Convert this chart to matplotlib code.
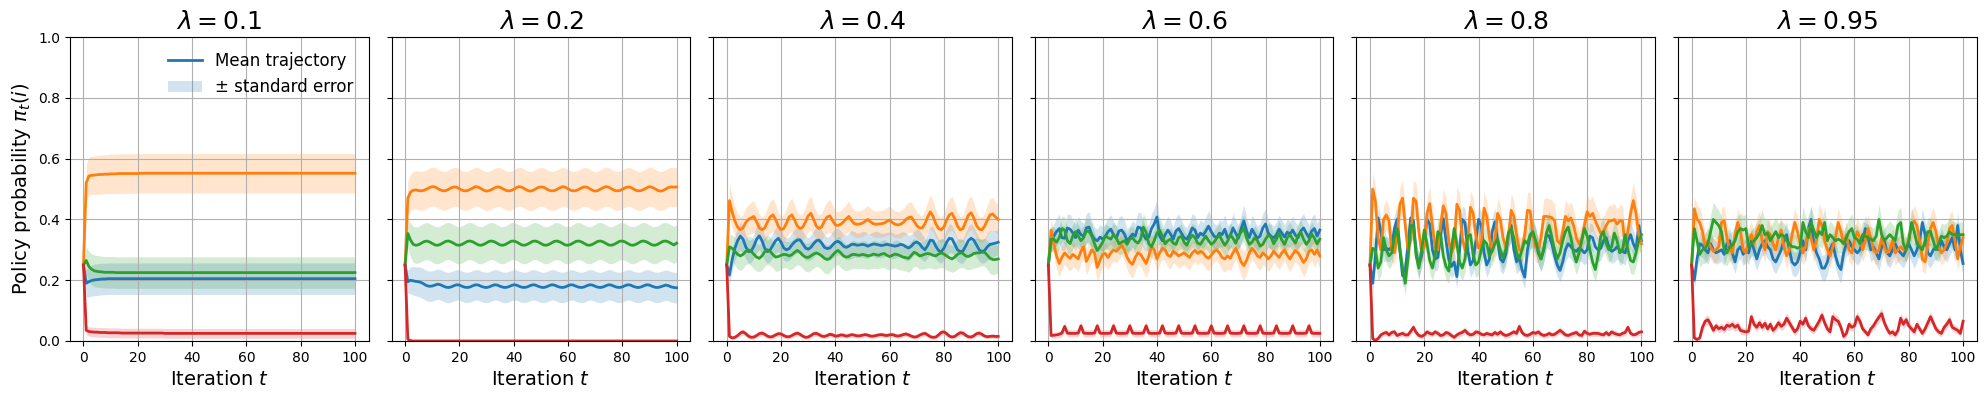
import numpy as np
import matplotlib.pyplot as plt

# values, in thousandths, t = 0..100 (10 per row)
lambdas = [0.1, 0.2, 0.4, 0.6, 0.8, 0.95]
iterations = np.arange(101)

# ---- lambda = 0.1 ----
blue_01 = """250 190 195 199 201 202 203 204 204 205
205 205 205 205 205 205 205 205 205 205
205 205 205 205 205 205 205 205 205 205
205 205 205 205 205 205 205 205 205 205
205 205 205 205 205 205 205 205 205 205
205 205 205 205 205 205 205 205 205 205
205 205 205 205 205 205 205 205 205 205
205 205 205 205 205 205 205 205 205 205
205 205 205 205 205 205 205 205 205 205
205 205 205 205 205 205 205 205 205 205
205"""
orange_01 = """250 520 543 545 546 547 548 548 549 549
550 550 550 551 551 551 551 551 551 551
551 552 552 552 552 552 552 552 552 552
552 552 552 552 552 552 552 552 552 552
552 552 552 552 552 552 552 552 552 552
552 552 552 552 552 552 552 552 552 552
552 552 552 552 552 552 552 552 552 552
552 552 552 552 552 552 552 552 552 552
552 552 552 552 552 552 552 552 552 552
552 552 552 552 552 552 552 552 552 552
552"""
green_01 = """250 265 245 236 231 229 228 227 226 226
226 226 225 225 225 225 225 225 225 225
225 225 225 225 225 225 225 225 225 225
225 225 225 225 225 225 225 225 225 225
225 225 225 225 225 225 225 225 225 225
225 225 225 225 225 225 225 225 225 225
225 225 225 225 225 225 225 225 225 225
225 225 225 225 225 225 225 225 225 225
225 225 225 225 225 225 225 225 225 225
225 225 225 225 225 225 225 225 225 225
225"""
red_01 = """250 35 31 30 29 29 28 28 28 27
27 27 27 27 26 26 26 26 26 26
26 26 26 26 26 26 26 26 26 26
25 25 25 25 25 25 25 25 25 25
25 25 25 25 25 25 25 25 25 25
25 25 25 25 25 25 25 25 25 25
25 25 25 25 25 25 25 25 25 25
25 25 25 25 25 25 25 25 25 25
25 25 25 25 25 25 25 25 25 25
25 25 25 25 25 25 25 25 25 25
25"""
err_blue_01 = """0 45 50 51 52 52 52 52 52 52
52 52 52 52 52 52 52 52 52 52
52 52 52 52 52 52 52 52 52 52
52 52 52 52 52 52 52 52 52 52
52 52 52 52 52 52 52 52 52 52
52 52 52 52 52 52 52 52 52 52
52 52 52 52 52 52 52 52 52 52
52 52 52 52 52 52 52 52 52 52
52 52 52 52 52 52 52 52 52 52
52 52 52 52 52 52 52 52 52 52
52"""
err_orange_01 = """0 60 62 63 63 64 64 64 64 64
65 65 65 65 65 65 65 65 65 65
65 65 65 65 65 65 65 65 65 65
65 65 65 65 65 65 65 65 65 65
65 65 65 65 65 65 65 65 65 65
65 65 65 65 65 65 65 65 65 65
65 65 65 65 65 65 65 65 65 65
65 65 65 65 65 65 65 65 65 65
65 65 65 65 65 65 65 65 65 65
65 65 65 65 65 65 65 65 65 65
65"""
err_green_01 = """0 45 50 51 52 52 52 52 52 52
52 52 52 52 52 52 52 52 52 52
52 52 52 52 52 52 52 52 52 52
52 52 52 52 52 52 52 52 52 52
52 52 52 52 52 52 52 52 52 52
52 52 52 52 52 52 52 52 52 52
52 52 52 52 52 52 52 52 52 52
52 52 52 52 52 52 52 52 52 52
52 52 52 52 52 52 52 52 52 52
52 52 52 52 52 52 52 52 52 52
52"""
err_red_01 = """0 14 15 16 16 16 16 16 16 16
16 16 16 16 16 16 16 16 16 16
16 16 16 16 16 16 16 16 16 16
16 16 16 16 16 16 16 16 16 16
16 16 16 16 16 16 16 16 16 16
16 16 16 16 16 16 16 16 16 16
16 16 16 16 16 16 16 16 16 16
16 16 16 16 16 16 16 16 16 16
16 16 16 16 16 16 16 16 16 16
16 16 16 16 16 16 16 16 16 16
16"""

# ---- lambda = 0.2 ----
blue_02 = """250 195 200 198 196 195 192 187 182 180
181 184 187 185 181 177 176 178 182 185
184 180 177 176 178 182 185 184 180 177
176 178 182 185 184 180 177 176 178 182
185 184 180 177 176 178 182 185 184 180
177 176 178 182 185 184 180 177 176 178
182 185 184 180 177 176 178 182 185 184
180 177 176 178 182 185 184 180 177 176
178 182 185 184 180 177 176 178 182 185
184 180 177 176 178 181 184 182 178 176
175"""
orange_02 = """250 470 490 496 497 495 494 496 500 505
508 507 502 497 494 495 499 504 507 506
501 496 494 495 499 504 508 506 501 496
493 495 499 504 507 506 501 496 494 495
499 505 508 506 501 496 493 495 500 505
507 506 501 496 494 495 499 504 508 506
501 496 494 495 499 504 507 506 501 496
493 495 500 505 508 506 501 496 494 495
499 504 507 506 501 496 494 495 499 504
508 506 501 496 493 495 500 505 507 506
507"""
green_02 = """250 354 332 318 315 317 322 327 329 326
321 316 315 318 323 328 329 326 321 316
315 318 323 328 329 326 321 316 315 318
323 328 329 326 321 316 315 318 323 328
329 326 321 316 315 318 323 328 329 326
321 316 315 318 323 328 329 326 321 316
315 318 323 328 329 326 321 316 315 318
323 328 329 326 321 316 315 318 323 328
329 326 321 316 315 318 323 328 329 326
321 316 315 318 323 328 329 326 321 316
322"""
red_02 = """250 6 1 0 0 0 0 0 0 0
0 0 0 0 0 0 0 0 0 0
0 0 0 0 0 0 0 0 0 0
0 0 0 0 0 0 0 0 0 0
0 0 0 0 0 0 0 0 0 0
0 0 0 0 0 0 0 0 0 0
0 0 0 0 0 0 0 0 0 0
0 0 0 0 0 0 0 0 0 0
0 0 0 0 0 0 0 0 0 0
0 0 0 0 0 0 0 0 0 0
0"""
err_blue_02 = """0 38 44 47 48 49 50 50 50 50
50 50 50 50 50 50 50 50 50 50
50 50 50 50 50 50 50 50 50 50
50 50 50 50 50 50 50 50 50 50
50 50 50 50 50 50 50 50 50 50
50 50 50 50 50 50 50 50 50 50
50 50 50 50 50 50 50 50 50 50
50 50 50 50 50 50 50 50 50 50
50 50 50 50 50 50 50 50 50 50
50 50 50 50 50 50 50 50 50 50
50"""
err_orange_02 = """0 55 60 62 63 64 64 64 64 64
64 64 64 64 64 64 64 64 64 64
64 64 64 64 64 64 64 64 64 64
64 64 64 64 64 64 64 64 64 64
64 64 64 64 64 64 64 64 64 64
64 64 64 64 64 64 64 64 64 64
64 64 64 64 64 64 64 64 64 64
64 64 64 64 64 64 64 64 64 64
64 64 64 64 64 64 64 64 64 64
64 64 64 64 64 64 64 64 64 64
64"""
err_green_02 = """0 48 56 59 60 60 61 61 61 61
61 61 61 61 61 61 61 61 61 61
61 61 61 61 61 61 61 61 61 61
61 61 61 61 61 61 61 61 61 61
61 61 61 61 61 61 61 61 61 61
61 61 61 61 61 61 61 61 61 61
61 61 61 61 61 61 61 61 61 61
61 61 61 61 61 61 61 61 61 61
61 61 61 61 61 61 61 61 61 61
61 61 61 61 61 61 61 61 61 61
61"""
err_red_02 = """0 4 1 0 0 0 0 0 0 0
0 0 0 0 0 0 0 0 0 0
0 0 0 0 0 0 0 0 0 0
0 0 0 0 0 0 0 0 0 0
0 0 0 0 0 0 0 0 0 0
0 0 0 0 0 0 0 0 0 0
0 0 0 0 0 0 0 0 0 0
0 0 0 0 0 0 0 0 0 0
0 0 0 0 0 0 0 0 0 0
0 0 0 0 0 0 0 0 0 0
0"""

# ---- lambda = 0.4 ----
blue_04 = """250 217 268 305 330 345 335 310 294 296
312 335 346 330 305 294 300 315 330 338
325 306 300 304 316 326 332 333 320 306
302 308 320 330 332 322 308 304 306 316
325 328 322 312 308 312 318 318 315 316
318 316 312 316 319 318 316 314 316 318
316 314 312 314 318 316 310 306 312 322
326 320 308 300 314 332 330 312 298 294
305 325 338 336 318 300 294 296 312 330
338 332 316 300 294 298 310 318 320 322
325"""
orange_04 = """250 462 425 395 375 366 372 390 400 405
410 392 372 366 372 392 408 415 400 378
366 370 388 408 415 398 378 370 374 392
412 420 400 378 370 376 395 408 412 396
382 380 384 392 402 410 396 386 384 385
388 394 400 392 386 384 385 386 388 394
398 390 384 382 384 390 400 406 408 394
380 372 372 385 408 425 410 386 370 366
375 398 415 420 402 378 366 370 392 414
422 405 380 368 366 378 398 415 418 408
400"""
green_04 = """250 310 305 295 285 280 285 295 300 295
285 276 272 280 294 300 295 284 276 278
282 285 284 280 284 292 298 292 282 276
275 280 286 290 286 280 272 268 272 282
292 298 290 280 276 278 284 285 283 282
285 283 280 282 286 284 282 286 288 282
278 282 286 284 280 276 274 272 282 292
288 280 282 286 288 286 282 280 286 290
286 280 274 270 276 285 290 288 280 278
282 288 290 290 292 292 282 272 268 268
270"""
red_04 = """250 15 10 12 18 26 30 24 16 12
13 18 24 26 22 16 13 15 20 24
23 18 14 14 18 23 26 22 16 12
13 18 24 25 21 16 15 18 22 20
16 17 20 19 16 18 21 19 17 17
19 21 19 16 16 18 20 21 19 18
20 21 18 16 18 21 23 20 16 13
14 19 23 25 20 14 12 13 20 28
30 24 16 13 15 22 27 26 19 14
13 17 24 26 22 16 14 15 16 15
15"""
err_blue_04 = """0 30 36 40 44 46 44 40 38 38
40 44 46 44 40 38 38 40 42 44
42 40 38 38 40 42 44 44 42 40
38 40 44 46 44 42 40 38 40 44
46 44 40 38 40 44 46 42 40 40
42 44 40 38 40 44 42 40 38 40
42 44 40 38 40 44 46 42 38 40
44 46 42 38 40 46 46 42 38 38
40 44 48 46 42 38 38 40 44 48
48 44 40 38 38 40 44 46 44 42
40"""
err_orange_04 = """0 55 52 48 45 42 44 48 50 52
52 48 44 42 44 48 52 54 50 46
42 44 48 52 55 50 46 44 45 48
54 56 50 46 44 45 48 52 54 50
46 44 45 46 48 50 46 44 43 44
44 45 46 44 43 43 44 44 45 46
47 45 44 43 44 45 48 50 50 47
44 42 42 45 50 56 52 46 42 42
44 50 54 56 50 45 42 43 48 54
56 50 45 42 42 45 50 54 54 50
48"""
err_green_04 = """0 40 44 46 48 48 46 44 46 48
48 46 44 46 48 48 46 44 46 48
46 44 44 46 48 48 46 44 44 46
48 48 46 44 44 46 48 48 46 44
44 46 48 46 44 44 46 46 44 44
46 46 44 44 46 46 44 44 46 46
44 44 46 48 46 44 44 46 48 46
44 44 46 48 48 46 44 44 46 48
48 46 44 44 46 48 48 46 44 44
46 48 48 46 44 46 48 50 50 48
46"""
err_red_04 = """0 6 6 7 8 9 10 9 8 7
7 8 9 9 8 7 7 8 9 9
9 8 7 7 8 9 9 8 7 7
7 8 9 9 8 7 7 8 9 8
7 7 8 8 7 8 8 8 7 7
8 8 8 7 7 8 8 8 8 7
8 8 8 7 8 8 9 8 7 7
7 8 9 9 8 7 7 7 8 10
10 9 7 7 7 9 10 9 8 7
7 7 9 9 8 7 7 7 7 7
7"""

# ---- lambda = 0.6 ----
blue_06 = """250 330 345 360 370 340 338 372 368 356
340 365 350 345 372 375 350 335 330 342
335 345 360 368 350 338 362 365 352 330
340 352 345 375 372 350 335 342 370 385
408 345 330 350 365 352 335 362 370 355
340 335 350 372 365 340 355 348 362 378
360 345 340 355 350 368 340 345 372 355
338 370 395 362 340 368 352 338 346 372
385 355 345 338 350 368 355 342 358 352
365 348 340 362 372 355 340 362 370 345
365"""
orange_06 = """250 365 320 280 255 275 290 280 272 285
278 270 295 310 262 280 300 290 242 265
285 288 275 290 300 295 305 315 300 275
260 252 275 290 285 270 255 280 310 300
270 290 305 300 282 278 295 288 280 285
290 282 275 290 298 288 295 290 278 272
282 295 300 290 275 270 280 272 290 305
285 260 248 265 290 305 295 280 275 290
282 270 280 295 285 275 290 300 282 270
285 298 290 275 258 270 295 300 285 300
280"""
green_06 = """250 335 335 325 340 370 365 330 320 345
360 345 330 340 362 360 345 320 298 310
325 345 340 335 350 340 320 325 330 318
335 340 328 322 335 375 358 320 310 330
355 365 345 320 330 335 322 318 340 345
325 315 335 348 340 322 318 332 345 330
318 325 338 348 330 315 328 350 338 322
345 358 372 340 318 325 340 330 312 318
335 348 342 320 335 355 332 318 340 350
335 322 348 358 335 318 330 352 338 320
335"""
red_06 = """250 18 19 20 22 26 48 26 25 25
25 26 50 26 25 25 25 26 50 26
25 25 25 26 50 26 25 25 25 26
50 26 25 25 25 26 50 26 25 25
25 26 50 26 25 25 25 26 50 26
25 25 25 26 50 26 25 25 25 26
50 26 25 25 25 26 50 26 25 25
25 26 50 26 25 25 25 26 50 26
25 25 25 26 50 26 25 25 25 26
50 26 25 25 25 26 50 26 25 25
25"""
err_blue_06 = """0 35 40 45 48 42 40 46 48 44
40 46 44 42 48 50 44 40 38 42
40 42 46 48 44 40 46 48 44 38
40 44 42 48 50 44 40 42 48 52
56 44 38 42 46 44 40 46 48 44
40 38 42 48 46 40 44 42 46 50
46 42 40 44 42 48 40 42 48 44
40 46 52 46 40 46 44 40 42 48
50 44 42 40 42 46 44 40 44 42
46 42 40 46 48 44 40 46 48 42
44"""
err_orange_06 = """0 38 40 42 44 40 38 40 42 40
40 42 38 36 44 42 38 40 46 44
40 38 40 38 36 38 36 34 36 40
44 46 42 38 40 42 46 42 36 38
42 38 36 38 40 40 36 38 40 40
38 40 42 38 36 38 36 38 40 42
40 36 36 38 42 44 40 42 38 36
40 46 48 44 38 36 38 40 42 38
40 42 40 36 38 40 38 36 40 42
40 38 38 42 46 44 38 36 40 38
40"""
err_green_06 = """0 40 42 40 38 42 44 40 38 40
42 40 38 40 42 42 40 36 34 36
38 40 40 38 40 40 36 38 38 36
38 40 38 36 38 44 42 38 36 38
42 44 40 36 38 38 36 36 40 40
38 36 38 40 40 36 36 38 40 38
36 38 40 40 38 36 38 40 40 36
40 42 44 40 36 38 40 38 36 36
38 40 40 36 38 42 38 36 40 40
38 36 40 42 38 36 38 40 38 36
38"""
err_red_06 = """0 8 9 10 11 12 14 12 12 12
12 12 14 12 12 12 12 12 14 12
12 12 12 12 14 12 12 12 12 12
14 12 12 12 12 12 14 12 12 12
12 12 14 12 12 12 12 12 14 12
12 12 12 12 14 12 12 12 12 12
14 12 12 12 12 12 14 12 12 12
12 12 14 12 12 12 12 12 14 12
12 12 12 12 14 12 12 12 12 12
14 12 12 12 12 12 14 12 12 12
12"""

# ---- lambda = 0.8 ----
blue_08 = """250 190 280 405 360 300 305 300 310 370
400 300 215 230 320 405 395 290 250 280
330 400 385 300 270 275 350 402 330 270
245 260 212 300 400 390 300 250 265 330
400 380 290 250 270 360 392 330 270 260
285 350 380 300 260 275 235 210 300 345
350 330 290 270 300 350 345 320 280 250
232 260 300 320 310 300 295 305 300 290
300 345 340 310 300 305 330 340 310 295
300 310 300 295 290 330 350 320 300 380
330"""
orange_08 = """250 500 460 340 300 400 415 395 300 290
340 450 470 380 300 330 470 460 360 295
310 420 452 380 310 300 380 445 420 330
290 310 450 430 340 300 330 440 420 345
305 320 437 410 340 300 330 420 400 340
310 340 430 410 350 300 300 350 430 428
350 310 300 340 410 410 408 406 395 330
320 360 410 395 405 380 340 320 335 380
425 410 420 395 375 355 360 380 395 395
400 385 395 395 310 360 420 462 420 350
320"""
green_08 = """250 305 300 240 260 340 300 280 290 340
370 300 240 190 270 380 380 280 240 300
365 320 265 240 280 360 350 280 245 230
300 370 320 260 240 270 345 350 285 250
260 300 330 320 280 295 320 335 300 275
300 355 370 340 290 270 300 330 320 350
360 330 295 270 300 355 380 340 300 270
290 330 360 375 340 290 260 290 330 370
345 300 260 235 280 345 360 320 300 310
355 330 290 300 350 300 265 260 290 330
350"""
red_08 = """250 8 2 8 20 25 28 20 28 30
18 22 25 20 20 32 45 28 18 15
20 30 25 22 30 25 18 20 28 25
18 12 20 25 28 35 25 20 22 30
28 22 20 25 22 20 28 22 30 22
18 20 25 30 25 48 28 20 18 22
28 25 30 22 18 20 25 20 22 28
35 28 20 18 22 25 28 20 18 32
25 22 25 25 25 22 20 28 20 30
25 22 20 25 28 45 25 20 22 28
30"""
err_blue_08 = """0 35 40 45 44 40 40 40 40 44
46 42 38 40 42 46 46 42 40 42
42 46 46 42 40 40 44 46 42 40
38 40 38 42 46 46 42 40 40 42
46 46 42 40 40 44 46 42 40 40
40 44 46 42 40 40 40 38 42 44
44 42 40 40 40 44 44 42 40 38
38 40 40 42 40 40 40 40 40 40
40 44 44 42 40 40 42 44 42 40
40 40 40 40 40 42 44 42 40 46
42"""
err_orange_08 = """0 55 50 40 38 45 50 48 40 38
42 55 60 50 40 42 60 58 48 40
40 52 58 50 42 40 48 56 54 44
40 42 58 55 44 40 42 55 52 44
40 42 55 52 44 40 42 52 50 44
40 44 55 52 46 40 40 46 60 62
60 50 44 46 58 62 60 58 55 46
42 48 55 52 54 50 44 42 44 50
56 54 56 52 50 48 48 50 52 52
52 50 52 52 42 48 56 60 56 46
42"""
err_green_08 = """0 35 40 42 44 46 44 42 42 46
48 44 40 40 44 48 48 44 42 44
46 44 42 42 44 46 46 44 42 42
44 48 46 42 42 44 46 46 44 42
42 44 46 44 42 44 44 46 44 42
44 46 48 46 42 42 44 46 44 46
48 46 44 42 44 46 48 46 44 42
42 44 46 48 46 42 42 44 46 48
46 44 42 40 42 46 46 44 42 44
46 44 42 44 46 44 42 42 44 44
46"""
err_red_08 = """0 6 4 6 8 10 10 9 10 10
9 9 10 9 9 11 13 10 9 8
9 10 10 9 10 10 9 9 10 10
9 8 9 10 10 12 10 9 9 10
10 9 9 10 9 9 10 9 10 9
9 9 10 10 10 13 10 9 9 9
10 10 10 9 9 9 10 9 9 10
12 10 9 9 9 10 10 9 9 11
10 9 10 10 10 9 9 10 9 10
10 9 9 10 10 13 10 9 9 10
10"""

# ---- lambda = 0.95 ----
blue_095 = """250 200 270 320 315 300 290 320 300 290
295 300 285 320 330 290 260 300 310 285
300 290 330 300 270 300 320 330 310 300
270 260 280 300 330 350 300 260 250 260
290 330 300 370 400 320 290 270 240 240
260 300 320 280 250 235 290 320 330 310
300 290 300 330 370 340 300 310 290 270
310 330 290 280 300 320 300 290 280 300
320 300 280 300 330 390 350 290 280 300
310 300 330 310 300 320 340 300 380 300
255"""
orange_095 = """250 435 400 390 360 310 330 310 295 300
310 390 395 340 300 290 350 390 360 300
290 330 350 320 360 380 330 300 360 350
320 300 340 365 310 280 300 350 390 360
320 290 310 370 340 300 330 400 380 330
300 280 310 340 390 360 320 350 300 290
330 360 340 300 330 370 340 300 290 300
340 310 290 300 330 290 300 310 300 305
330 380 395 380 330 270 260 320 370 390
360 310 290 300 320 370 380 330 270 310
340"""
green_095 = """250 370 330 285 300 305 320 360 400 390
380 360 300 290 310 315 330 360 370 365
370 310 320 330 340 355 380 350 355 330
345 360 340 350 345 330 320 310 310 305
310 390 360 340 390 365 340 360 350 390
330 350 340 330 335 330 320 340 360 370
340 335 320 350 345 340 335 330 345 400
350 330 340 350 340 330 380 390 320 300
330 390 360 320 310 300 330 360 360 330
300 320 345 340 345 360 350 350 345 350
350"""
red_095 = """250 10 5 10 45 65 70 55 35 50
40 45 38 52 48 55 45 52 35 32
30 32 80 55 45 60 45 58 40 55
35 45 60 48 55 75 60 45 30 40
65 55 75 50 40 35 50 65 85 60
40 30 80 70 65 45 15 25 55 45
50 80 65 40 30 20 40 50 65 78
90 60 40 25 30 20 35 75 55 70
50 40 30 55 40 25 40 60 80 60
40 30 25 45 55 70 45 40 35 25
65"""
err_blue_095 = """0 30 36 40 40 38 38 40 38 38
38 38 38 40 42 40 38 38 40 38
38 38 42 40 38 38 40 42 40 38
38 38 38 40 42 44 42 40 40 40
40 42 40 44 46 42 40 40 42 44
42 40 40 40 42 46 40 40 42 40
40 40 40 42 44 42 40 40 40 40
40 42 40 40 40 40 40 40 40 40
40 40 40 40 42 46 44 40 40 40
40 40 42 40 40 40 42 40 44 40
40"""
err_orange_095 = """0 40 46 48 44 40 42 40 40 40
42 48 50 44 40 40 44 48 46 40
40 42 44 42 46 48 42 40 44 44
40 40 42 46 42 40 40 44 48 46
42 40 42 48 44 40 42 52 50 44
40 38 40 44 48 46 42 44 40 40
42 46 44 40 42 46 44 40 40 40
42 40 40 40 42 40 40 40 40 40
42 48 50 48 42 40 40 42 48 50
46 40 40 40 42 48 48 42 40 42
44"""
err_green_095 = """0 40 45 42 46 50 52 54 56 52
50 48 44 42 46 48 50 52 50 48
46 42 44 46 48 50 52 48 46 44
46 48 46 46 44 42 42 40 42 42
44 52 50 46 52 48 44 46 46 50
44 46 44 42 44 42 42 44 46 48
44 44 42 46 44 44 42 42 44 50
46 42 44 46 44 42 48 50 44 40
42 48 46 42 40 40 42 46 46 42
40 42 44 44 44 46 44 44 42 42
42"""
err_red_095 = """0 8 6 8 14 16 16 14 12 14
13 14 13 15 14 15 14 15 13 12
12 12 18 15 14 16 14 15 13 15
13 14 16 14 15 18 16 14 12 13
16 15 18 14 13 12 14 16 19 16
13 12 18 17 16 14 10 11 15 14
14 18 16 13 12 11 13 14 16 18
20 16 13 11 12 11 12 17 15 16
14 13 12 15 13 11 13 16 18 16
13 12 11 14 15 17 14 13 12 11
15"""


def parse(s):
    v = np.array(s.split(), dtype=float) / 1000
    assert len(v) == 101, len(v)
    return v


means = [
    [blue_01, orange_01, green_01, red_01],
    [blue_02, orange_02, green_02, red_02],
    [blue_04, orange_04, green_04, red_04],
    [blue_06, orange_06, green_06, red_06],
    [blue_08, orange_08, green_08, red_08],
    [blue_095, orange_095, green_095, red_095],
]
errors = [
    [err_blue_01, err_orange_01, err_green_01, err_red_01],
    [err_blue_02, err_orange_02, err_green_02, err_red_02],
    [err_blue_04, err_orange_04, err_green_04, err_red_04],
    [err_blue_06, err_orange_06, err_green_06, err_red_06],
    [err_blue_08, err_orange_08, err_green_08, err_red_08],
    [err_blue_095, err_orange_095, err_green_095, err_red_095],
]
colors = ['tab:blue', 'tab:orange', 'tab:green', 'tab:red']

fig, axes = plt.subplots(1, 6, figsize=(19.86, 3.99), dpi=100, sharey=True)
fig.subplots_adjust(left=0.0352, right=0.9953, top=0.907, bottom=0.1454, wspace=0.077)

for i, ax in enumerate(axes):
    for j in range(4):
        m = parse(means[i][j])
        e = parse(errors[i][j])
        ax.plot(iterations, m, color=colors[j], lw=2,
                label='Mean trajectory' if j == 0 else None)
        ax.fill_between(iterations, m - e, m + e, color=colors[j], alpha=0.2,
                        lw=0, label='± standard error' if j == 0 else None)
    ax.set_title(r'$\lambda = %s$' % lambdas[i], fontsize=18)
    ax.set_xlabel('Iteration $t$', fontsize=14)
    ax.set_ylim(0, 1)
    ax.set_xticks([0, 20, 40, 60, 80, 100])
    ax.grid(True)

axes[0].set_ylabel(r'Policy probability $\pi_t(i)$', fontsize=14)
axes[0].legend(loc='upper right', frameon=False, fontsize=12)

fig.savefig('out.png', dpi=100)
